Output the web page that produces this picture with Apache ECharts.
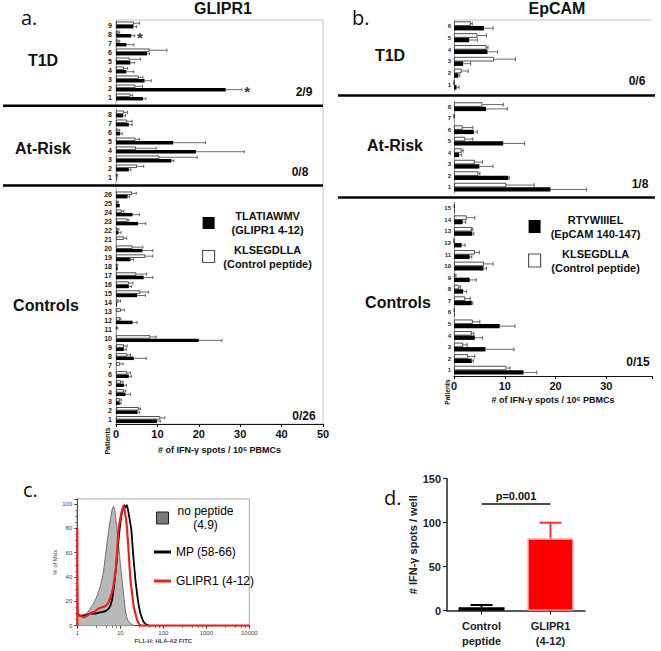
<!DOCTYPE html>
<html><head><meta charset="utf-8">
<script src="https://cdn.jsdelivr.net/npm/echarts@6/dist/echarts.min.js"></script>
<style>html,body{margin:0;padding:0;background:#fff}#c{width:661px;height:651px}</style>
</head><body><div id="c"></div>
<script>
// ---------- Panel a : GLIPR1 (values per patient, patient 1 first) ----------
const aT1D_patients = ['1','2','3','4','5','6','7','8','9'];
const aT1D_peptide = [6.5, 26.5, 6.9, 2.5, 3.5, 7.5, 2.5, 3.7, 4.2];
const aT1D_peptideErr = [0.7, 3.9, 1.6, 1.8, 1.0, 0.6, 1.8, 0.8, 0.8];
const aT1D_control = [3.5, 4.7, 5.5, 1.9, 3.3, 8.1, 0.6, 0.6, 4.3];
const aT1D_controlErr = [0.5, 1.7, 1.0, 0.9, 2.6, 4.2, 0.3, 0.3, 1.4];
const aT1D_signif = [0,1,0,0,0,0,0,1,0];

const aRisk_patients = ['1','2','3','4','5','6','7','8'];
const aRisk_peptide = [0.1, 3.1, 13.4, 19.3, 13.8, 1.0, 3.1, 1.7];
const aRisk_peptideErr = [0.1, 0.5, 0.6, 11.7, 7.8, 0.5, 0.8, 0.6];
const aRisk_control = [0.2, 5.1, 10.5, 4.8, 4.7, 0.6, 2.7, 1.9];
const aRisk_controlErr = [0.2, 1.6, 9.1, 4.9, 1.0, 0.3, 1.2, 0.9];

const aCtl_patients = ['1','2','3','4','5','6','7','8','9','10','11','12','13','14','15','16','17','18','19','20','21','22','23','24','25','26'];
const aCtl_peptide = [9.9, 5.2, 0.9, 2.3, 1.9, 3.1, 0, 4.3, 1.9, 20.0, 0, 4.0, 0, 0.2, 5.1, 3.1, 6.7, 0.4, 3.5, 6.4, 0, 0.6, 5.3, 4.0, 0.9, 2.8];
const aCtl_peptideErr = [0.8, 0.5, 0.3, 1.2, 0.6, 0.6, 0, 3.0, 0.6, 5.6, 0, 1.1, 0, 0, 2.0, 0.6, 2.2, 0, 0.7, 2.5, 0, 0.6, 1.9, 1.7, 0, 0.5];
const aCtl_control = [10.7, 5.5, 1.0, 1.9, 1.2, 2.7, 1.0, 2.7, 1.9, 8.3, 0.2, 1.0, 1.2, 0.6, 5.9, 3.1, 4.9, 0.2, 7.1, 4.0, 1.9, 0.4, 2.8, 1.4, 0.4, 3.9];
const aCtl_controlErr = [1.1, 0.4, 0.3, 0.5, 0.5, 0.8, 0.7, 0.8, 0.8, 1.4, 0.2, 0.2, 0.8, 0.5, 2.0, 1.0, 2.5, 0.2, 1.8, 2.5, 0.7, 0.3, 0.3, 0.5, 0.2, 1.0];

// ---------- Panel b : EpCAM ----------
const bT1D_patients = ['1','2','3','4','5','6'];
const bT1D_peptide = [0.5, 0.85, 1.8, 6.6, 3.0, 5.9];
const bT1D_peptideErr = [0.5, 0.3, 1.5, 2.0, 1.6, 1.8];
const bT1D_control = [0, 1.5, 7.9, 6.4, 4.6, 3.3];
const bT1D_controlErr = [0, 1.3, 4.2, 0.3, 1.8, 0.3];

const bRisk_patients = ['1','2','3','4','5','6','7','8'];
const bRisk_peptide = [19.0, 10.7, 5.0, 1.0, 9.7, 3.9, 0, 6.3];
const bRisk_peptideErr = [7.1, 0.2, 2.7, 0.5, 4.2, 0.7, 0, 4.2];
const bRisk_control = [10.3, 4.8, 4.1, 1.5, 2.2, 1.7, 0, 5.6];
const bRisk_controlErr = [5.5, 0.3, 1.5, 0.3, 1.5, 2.0, 0, 4.1];

const bCtl_patients = ['1','2','3','4','5','6','7','8','9','10','11','12','13','14','15'];
const bCtl_peptide = [13.7, 3.5, 6.2, 4.1, 9.0, 0.1, 3.5, 1.8, 3.1, 5.8, 3.1, 1.5, 3.6, 1.7, 0.1];
const bCtl_peptideErr = [2.6, 0.3, 5.6, 1.5, 3.0, 0, 0.2, 0.7, 1.3, 0.6, 0.4, 0.7, 0.3, 0.6, 0];
const bCtl_control = [10.3, 2.8, 1.8, 3.5, 3.7, 0.1, 2.2, 1.0, 0.2, 5.9, 4.1, 0, 3.5, 2.5, 0.1];
const bCtl_controlErr = [0.7, 1.3, 0.8, 0.4, 1.4, 0, 1.0, 0.3, 0.2, 1.8, 0.9, 0, 0.2, 1.6, 0];

// ---------- Panel c : flow histograms [FL1-H, % of Max] ----------
const cNoPeptide = [[1,0],[1,95],[1.04,8],[1.3,9],[1.66,10],[2.17,16],[2.7,22],[3.4,32],[4.0,43],[4.5,57],[5.4,79],[6.4,95],[7.0,98],[7.6,92],[8.4,79],[9.2,65],[10,52],[11,38],[12,25],[13,14],[14.4,6],[16,3],[18.8,1],[22,0]];
const cMP = [[1.03,10],[1.2,8],[1.38,8],[1.7,9],[2.0,10],[2.7,10],[3.4,11],[4.5,12],[5.6,15],[6.3,20],[7.0,30],[7.7,43],[8.4,57],[9.2,72],[10,84],[11,93],[12.5,99],[13.3,97],[14.3,99],[16,90],[18,79],[20,58],[22.4,38],[25,24],[27,16],[30,9],[35,3],[40,1],[46,0]];
const cGLIPR1 = [[1,0],[1,80],[1.03,9],[1.2,8],[1.4,7],[1.66,8],[2.0,10],[2.6,12],[3.1,14],[3.7,15],[4.5,16],[5.3,19],[6.0,24],[6.7,30],[7.4,40],[8.1,52],[9.1,79],[10,88],[11,95],[12,98],[13,92],[14.4,79],[15.8,58],[17.2,38],[19,25],[20.5,16],[22.5,10],[24.5,5],[28,1],[32,0],[100,0],[1000,0],[10000,0]];

// ---------- Panel d ----------
const dCategories = ['Control\npeptide', 'GLIPR1\n(4-12)'];
const dMeans = [4, 82];
const dErrors = [2.5, 18];
const dPValueText = 'p=0.001';
const dPValueLevel = 121;

// ---------------------------------------------------------------
const FONT = '"Liberation Sans", Arial, Helvetica, sans-serif';
const legendText = {
  'TLATIAWMV': ['TLATIAWMV', '(GLIPR1 4-12)'],
  'KLSEGDLLA': ['KLSEGDLLA', '(Control peptide)'],
  'RTYWIIIEL': ['RTYWIIIEL', '(EpCAM 140-147)']
};

const grids = [], xAxes = [], yAxes = [], series = [];

function hErr(sign) {
  return function (params, api) {
    const v = api.value(0), e = api.value(1), ci = api.value(2);
    if (!(e > 0)) return null;
    const p0 = api.coord([v, ci]), p1 = api.coord([v + e, ci]);
    const band = api.size([0, 1])[1];
    const y = p0[1] + sign * band * 0.19;
    const h = band * 0.34;
    return { type: 'group', children: [
      { type: 'line', shape: { x1: p0[0], y1: y, x2: p1[0], y2: y }, style: { stroke: '#444', lineWidth: 0.8 } },
      { type: 'line', shape: { x1: p1[0], y1: y - h / 2, x2: p1[0], y2: y + h / 2 }, style: { stroke: '#444', lineWidth: 0.8 } }
    ] };
  };
}

function addGroup(cfg) {
  const gi = grids.length;
  grids.push(cfg.grid);
  xAxes.push({
    type: 'value', gridIndex: gi, min: 0, max: cfg.max, interval: 10, show: cfg.showX,
    splitLine: { show: false },
    axisLine: { show: true, lineStyle: { color: '#111', width: 1.2 } },
    axisTick: { show: true, length: 3, lineStyle: { color: '#111' } },
    axisLabel: { fontSize: 11, fontWeight: 'bold', color: '#111', fontFamily: FONT, margin: 4,
      formatter: v => (v % 10 === 0 ? String(v) : '') },
    name: cfg.xName || '', nameLocation: 'middle', nameGap: cfg.nameGap || 22,
    nameTextStyle: { fontSize: 9, fontWeight: 'bold', color: '#111', fontFamily: FONT }
  });
  yAxes.push({
    type: 'category', gridIndex: gi, data: cfg.cats,
    axisLine: { show: true, lineStyle: { color: '#999', width: 1 } },
    axisTick: { show: false },
    axisLabel: { interval: 0, fontSize: cfg.labelSize, fontWeight: 'bold', color: '#222', fontFamily: FONT, margin: cfg.labelMargin }
  });
  series.push({
    type: 'bar', name: cfg.whtName, xAxisIndex: gi, yAxisIndex: gi, data: cfg.wht,
    barWidth: '38%', barGap: '0%', itemStyle: { color: '#fff', borderColor: '#222', borderWidth: 0.8 }
  });
  series.push({
    type: 'bar', name: cfg.blkName, xAxisIndex: gi, yAxisIndex: gi, data: cfg.blk,
    barWidth: '38%', barGap: '0%', itemStyle: { color: '#000' }
  });
  series.push({
    type: 'custom', xAxisIndex: gi, yAxisIndex: gi, renderItem: hErr(-1), encode: { x: 0, y: 2 },
    data: cfg.wht.map((v, i) => [v, cfg.whtErr[i], i]), z: 3
  });
  series.push({
    type: 'custom', xAxisIndex: gi, yAxisIndex: gi, renderItem: hErr(1), encode: { x: 0, y: 2 },
    data: cfg.blk.map((v, i) => [v, cfg.blkErr[i], i]), z: 3
  });
  if (cfg.signif) {
    const pts = [];
    cfg.signif.forEach((s, i) => {
      if (s) pts.push([Math.max(cfg.blk[i] + cfg.blkErr[i], cfg.wht[i] + cfg.whtErr[i]) + 1.3, i]);
    });
    series.push({
      type: 'scatter', xAxisIndex: gi, yAxisIndex: gi, data: pts, symbolSize: 1,
      itemStyle: { color: 'rgba(0,0,0,0)' },
      label: { show: true, position: 'inside', formatter: '*', fontSize: 15, fontWeight: 'bold', color: '#000', fontFamily: FONT, offset: [0, 3] }
    });
  }
}

// Panel a groups
addGroup({ grid: { left: 116, top: 20.5, width: 207, height: 81 }, max: 50, showX: false, cats: aT1D_patients,
  blk: aT1D_peptide, blkErr: aT1D_peptideErr, wht: aT1D_control, whtErr: aT1D_controlErr, signif: aT1D_signif,
  blkName: 'TLATIAWMV', whtName: 'KLSEGDLLA', labelSize: 7, labelMargin: 4 });
addGroup({ grid: { left: 116, top: 109.5, width: 207, height: 72 }, max: 50, showX: false, cats: aRisk_patients,
  blk: aRisk_peptide, blkErr: aRisk_peptideErr, wht: aRisk_control, whtErr: aRisk_controlErr,
  blkName: 'TLATIAWMV', whtName: 'KLSEGDLLA', labelSize: 7, labelMargin: 4 });
addGroup({ grid: { left: 116, top: 190.5, width: 207, height: 233.5 }, max: 50, showX: true, cats: aCtl_patients,
  blk: aCtl_peptide, blkErr: aCtl_peptideErr, wht: aCtl_control, whtErr: aCtl_controlErr,
  blkName: 'TLATIAWMV', whtName: 'KLSEGDLLA', labelSize: 7, labelMargin: 4,
  xName: '# of IFN-γ spots / 10⁶ PBMCs', nameGap: 21 });
// Panel b groups
addGroup({ grid: { left: 454, top: 20, width: 198, height: 71 }, max: 39, showX: false, cats: bT1D_patients,
  blk: bT1D_peptide, blkErr: bT1D_peptideErr, wht: bT1D_control, whtErr: bT1D_controlErr,
  blkName: 'RTYWIIIEL', whtName: 'KLSEGDLLA', labelSize: 6, labelMargin: 3 });
addGroup({ grid: { left: 454, top: 101, width: 198, height: 92 }, max: 39, showX: false, cats: bRisk_patients,
  blk: bRisk_peptide, blkErr: bRisk_peptideErr, wht: bRisk_control, whtErr: bRisk_controlErr,
  blkName: 'RTYWIIIEL', whtName: 'KLSEGDLLA', labelSize: 6, labelMargin: 3 });
addGroup({ grid: { left: 454, top: 202.5, width: 198, height: 173.5 }, max: 39, showX: true, cats: bCtl_patients,
  blk: bCtl_peptide, blkErr: bCtl_peptideErr, wht: bCtl_control, whtErr: bCtl_controlErr,
  blkName: 'RTYWIIIEL', whtName: 'KLSEGDLLA', labelSize: 6, labelMargin: 3,
  xName: '# of IFN-γ spots / 10⁶ PBMCs', nameGap: 19 });

// Panel c
const gc = grids.length;
grids.push({ left: 77.3, top: 499, width: 172, height: 126.7, show: true, borderColor: '#aaa', borderWidth: 1, backgroundColor: 'transparent' });
xAxes.push({
  type: 'log', logBase: 10, gridIndex: gc, min: 1, max: 10000,
  splitLine: { show: false },
  axisLine: { show: true, lineStyle: { color: '#444', width: 1 } },
  axisTick: { show: true, length: 3, lineStyle: { color: '#444' } },
  minorTick: { show: true, length: 2, splitNumber: 5, lineStyle: { color: '#666' } },
  axisLabel: { fontSize: 6, color: '#444', fontFamily: FONT, margin: 4, formatter: v => String(Math.round(v)) },
  name: 'FL1-H: HLA-A2 FITC', nameLocation: 'middle', nameGap: 12,
  nameTextStyle: { fontSize: 6, color: '#444', fontFamily: FONT, fontWeight: 'bold' }
});
yAxes.push({
  type: 'value', gridIndex: gc, min: 0, max: 104, interval: 20,
  splitLine: { show: false },
  axisLine: { show: true, lineStyle: { color: '#444', width: 1 } },
  axisTick: { show: true, length: 3, lineStyle: { color: '#444' } },
  minorTick: { show: true, length: 2, splitNumber: 4, lineStyle: { color: '#666' } },
  axisLabel: { fontSize: 6, color: '#444', fontFamily: FONT, margin: 5, formatter: v => (v % 20 === 0 ? String(v) : '') },
  name: '% of Max', nameLocation: 'middle', nameGap: 18,
  nameTextStyle: { fontSize: 6, color: '#444', fontFamily: FONT }
});
series.push({ type: 'line', name: 'no peptide', xAxisIndex: gc, yAxisIndex: gc, data: cNoPeptide, showSymbol: false, smooth: 0.15,
  lineStyle: { color: '#555', width: 0.8 }, itemStyle: { color: '#888' }, areaStyle: { color: '#b8b8b8', opacity: 1 } });
series.push({ type: 'line', name: 'MP (58-66)', xAxisIndex: gc, yAxisIndex: gc, data: cMP, showSymbol: false, smooth: 0.15,
  lineStyle: { color: '#000', width: 1.8 }, itemStyle: { color: '#000' } });
series.push({ type: 'line', name: 'GLIPR1 (4-12)', xAxisIndex: gc, yAxisIndex: gc, data: cGLIPR1, showSymbol: false, smooth: 0.15,
  lineStyle: { color: '#e8231f', width: 2.2 }, itemStyle: { color: '#e8231f' } });

// Panel d
const gd = grids.length;
const dColors = ['#000000', '#ff0000'];
const dBorders = ['#000000', '#ff8a8a'];
grids.push({ left: 447, top: 478.7, width: 138, height: 132 });
xAxes.push({
  type: 'category', gridIndex: gd, data: dCategories,
  axisLine: { show: true, lineStyle: { color: '#222', width: 1.5 } },
  axisTick: { show: true, alignWithLabel: true, length: 4, lineStyle: { color: '#222', width: 1.2 } },
  axisLabel: { fontSize: 11, fontWeight: 'bold', color: '#222', fontFamily: FONT, lineHeight: 15, margin: 8 }
});
yAxes.push({
  type: 'value', gridIndex: gd, min: 0, max: 150, interval: 50,
  splitLine: { show: false },
  axisLine: { show: true, lineStyle: { color: '#222', width: 1.5 } },
  axisTick: { show: true, length: 4, lineStyle: { color: '#222', width: 1.2 } },
  axisLabel: { fontSize: 11, fontWeight: 'bold', color: '#222', fontFamily: FONT, margin: 6 },
  name: '# IFN-γ spots / well', nameLocation: 'middle', nameGap: 26,
  nameTextStyle: { fontSize: 11, fontWeight: 'bold', color: '#222', fontFamily: FONT }
});
series.push({
  type: 'bar', name: 'dBars', xAxisIndex: gd, yAxisIndex: gd, barWidth: 46,
  data: dMeans.map((v, i) => ({ value: v, itemStyle: { color: dColors[i], borderColor: dBorders[i], borderWidth: 1.5 } })),
  markLine: {
    silent: true, symbol: 'none',
    lineStyle: { color: '#111', width: 1.5, type: 'solid' },
    label: { show: true, position: 'middle', formatter: dPValueText, fontSize: 11, fontWeight: 'bold', color: '#111', fontFamily: FONT, distance: 3 },
    data: [[{ coord: [0, dPValueLevel] }, { coord: [1, dPValueLevel] }]]
  }
});
series.push({
  type: 'custom', xAxisIndex: gd, yAxisIndex: gd, z: 1, encode: { x: 0, y: 1 },
  data: dMeans.map((v, i) => [i, v, dErrors[i]]),
  renderItem: function (params, api) {
    const ci = api.value(0), v = api.value(1), e = api.value(2);
    const p0 = api.coord([ci, v]), p1 = api.coord([ci, v + e]);
    const col = params.dataIndex === 0 ? '#000' : '#ff3030';
    return { type: 'group', children: [
      { type: 'line', shape: { x1: p0[0], y1: p0[1], x2: p1[0], y2: p1[1] }, style: { stroke: col, lineWidth: 2 } },
      { type: 'line', shape: { x1: p1[0] - 11, y1: p1[1], x2: p1[0] + 11, y2: p1[1] }, style: { stroke: col, lineWidth: 2 } }
    ] };
  }
});

function txt(x, y, text, size, weight, extra) {
  return Object.assign({ type: 'text', x: x, y: y, silent: true, z: 100,
    style: { text: text, fontSize: size, fontWeight: weight || 'bold', fontFamily: FONT, fill: '#111',
      textAlign: 'center', textVerticalAlign: 'middle', align: 'center', verticalAlign: 'middle' } }, extra || {});
}
function hline(x1, x2, y, w, color) {
  return { type: 'line', silent: true, z: 50, shape: { x1: x1, y1: y, x2: x2, y2: y }, style: { stroke: color, lineWidth: w } };
}
const PANEL_FONT = '"Open Sans", "Liberation Sans", sans-serif';
function panelLabel(x, y, t) {
  const o = txt(x, y, t, 20, 'normal');
  o.style.fontFamily = PANEL_FONT; o.style.textAlign = 'left'; o.style.align = 'left';
  return o;
}

const graphics = [
  // frames
  { type: 'rect', silent: true, z: 0, shape: { x: 116, y: 20, width: 207, height: 404 }, style: { fill: 'none', stroke: '#c4c4c4', lineWidth: 1 } },
  hline(454, 652, 20, 1, '#c4c4c4'),
  // separators
  hline(3, 323, 105.7, 2.5, '#000'), hline(3, 323, 185.5, 2.5, '#000'),
  hline(338, 655, 95.5, 2.5, '#000'), hline(338, 655, 197.5, 2.5, '#000'),
  // titles
  txt(223, 8, 'GLIPR1', 16), txt(557, 8, 'EpCAM', 16),
  panelLabel(21, 17, 'a.'), panelLabel(352, 17, 'b.'), panelLabel(23, 489, 'c.'), panelLabel(384, 497, 'd.'),
  // group labels
  txt(43, 60, 'T1D', 16), txt(43, 148, 'At-Risk', 16), txt(46, 305, 'Controls', 16),
  txt(390, 55, 'T1D', 16), txt(395, 145, 'At-Risk', 16), txt(398, 302, 'Controls', 16),
  // response fractions
  txt(304, 92, '2/9', 12), txt(300, 172, '0/8', 12), txt(304, 416, '0/26', 12),
  txt(637, 80.5, '0/6', 12), txt(640, 183.5, '1/8', 12), txt(638, 362, '0/15', 12),
  // Patients labels
  txt(107, 441, 'Patients', 7, 'bold', { rotation: Math.PI / 2 }),
  txt(447, 392, 'Patients', 6.5, 'bold', { rotation: Math.PI / 2 })
];

function legendFmt(name) {
  const t = legendText[name] || [name, ''];
  return '{t|' + t[0] + '}\n{t|' + t[1] + '}';
}

const option = {
  animation: false,
  backgroundColor: '#fff',
  textStyle: { fontFamily: FONT },
  grid: grids, xAxis: xAxes, yAxis: yAxes, series: series,
  legend: [
    { orient: 'vertical', left: 197, top: 205.5, itemWidth: 12, itemHeight: 12, itemGap: 8.5, selectedMode: false, icon: 'rect',
      data: [{ name: 'TLATIAWMV', itemStyle: { color: '#000' } }, { name: 'KLSEGDLLA', itemStyle: { color: '#fff', borderColor: '#555', borderWidth: 1.2 } }],
      formatter: legendFmt,
      textStyle: { rich: { t: { width: 96, align: 'center', fontSize: 11, fontWeight: 'bold', lineHeight: 14, color: '#111', fontFamily: FONT } } } },
    { orient: 'vertical', left: 523, top: 209, itemWidth: 12, itemHeight: 13, itemGap: 9, selectedMode: false, icon: 'rect',
      data: [{ name: 'RTYWIIIEL', itemStyle: { color: '#000' } }, { name: 'KLSEGDLLA', itemStyle: { color: '#fff', borderColor: '#555', borderWidth: 1.2 } }],
      formatter: legendFmt,
      textStyle: { rich: { t: { width: 100, align: 'center', fontSize: 11, fontWeight: 'bold', lineHeight: 14, color: '#111', fontFamily: FONT } } } },
    { orient: 'vertical', left: 151, top: 500, itemWidth: 12, itemHeight: 12, selectedMode: false,
      data: [{ name: 'no peptide', icon: 'rect', itemStyle: { color: '#7a7a7a', borderColor: '#222', borderWidth: 1 } }],
      formatter: () => '{t|no peptide}\n{t|(4.9)}',
      textStyle: { rich: { t: { width: 64, align: 'center', fontSize: 12, lineHeight: 14, color: '#000', fontFamily: FONT } } } },
    { orient: 'vertical', left: 149, top: 541, itemWidth: 17, itemHeight: 3, itemGap: 17, selectedMode: false, icon: 'rect',
      data: [{ name: 'MP (58-66)', itemStyle: { color: '#000' } }, { name: 'GLIPR1 (4-12)', itemStyle: { color: '#e8231f' } }],
      textStyle: { fontSize: 12, color: '#000', fontFamily: FONT } }
  ],
  graphic: graphics
};

const chart = echarts.init(document.getElementById('c'), null, { renderer: 'svg', width: 661, height: 651 });
chart.setOption(option);
</script>
</body></html>
